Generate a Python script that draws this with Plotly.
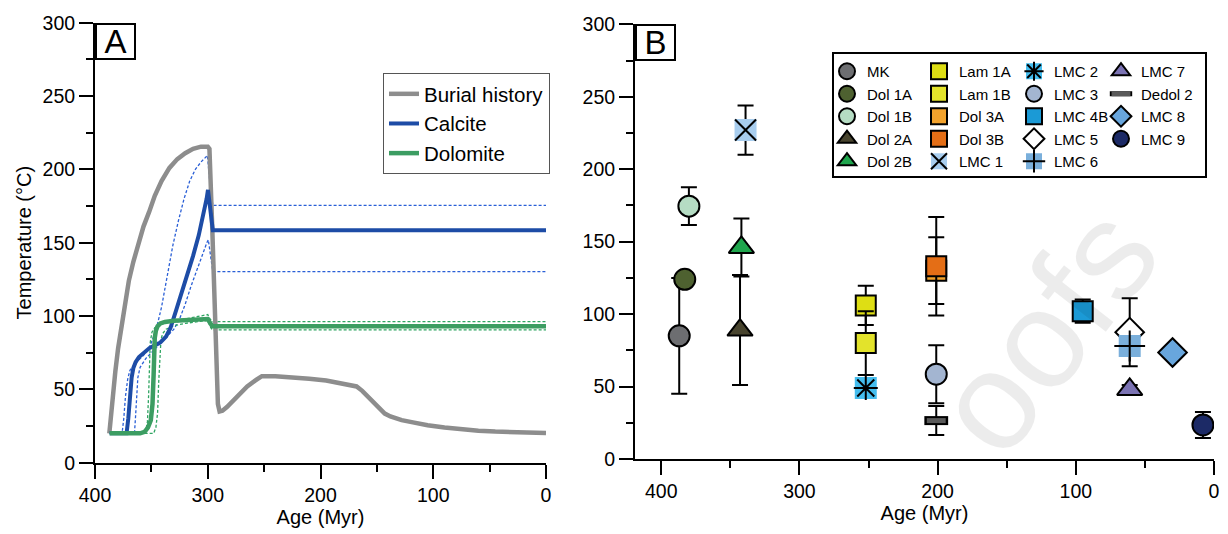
import plotly.graph_objects as go

FONT = "Liberation Sans, Arial, Helvetica, sans-serif"
W, H = 1228, 534

# ---------------- Panel A: burial history and clumped-isotope model paths ----------------
burial_age = [387.3, 386, 384, 382, 379.5, 376, 373, 370, 366, 362, 357, 352, 347, 341, 334,
              327, 320, 313, 306, 300, 298.5, 296, 293.5, 291, 289.5, 287, 283, 278, 272, 265,
              258, 252, 240, 225, 210, 195, 180, 168, 163, 158, 153, 148, 143, 138, 134, 128,
              118, 105, 90, 75, 60, 45, 30, 15, 0]
burial_temp = [20, 32, 47, 62, 78, 95, 110, 124, 137, 149, 161, 171, 182, 192, 201,
               207, 211, 214, 215.5, 215.5, 214, 160, 95, 40, 35, 35.5, 38, 42, 47, 52,
               56, 59, 59, 58.3, 57.2, 56, 54.2, 52, 49, 45, 40.5, 36.5, 33.5, 31.5, 30.5, 29,
               27.5, 25.5, 24, 22.7, 21.8, 21.2, 20.7, 20.4, 20.2]

calcite_age = [387, 372, 370.5, 369, 367.5, 366, 364, 361, 357, 352, 347, 342, 337, 333, 328,
               323, 318, 313, 308, 304, 301, 299.8, 297.5, 295.5, 0]
calcite_temp = [20, 20, 30, 45, 58, 64.5, 68.5, 72, 75, 78, 80, 82, 86, 92, 104,
                116, 128, 141, 155, 168, 180, 186, 171, 158.5, 158.5]

calcite_hi_age = [387, 376, 374.5, 373, 371, 369, 365, 361, 356, 351, 346, 341, 336, 331, 326,
                  321, 316, 311, 306, 302, 300.3, 298, 295.5, 0]
calcite_hi_temp = [20, 20, 30, 45, 57, 63, 67, 70, 74, 80, 90, 106, 128, 148, 165,
                   180, 192, 200, 205, 208.5, 209.5, 190, 175.5, 175.5]

calcite_lo_age = [387, 365, 364, 363, 362, 360, 355, 350, 345, 340, 335, 330, 325, 320, 315,
                  310, 305, 300.8, 299.5, 297.5, 295.5, 0]
calcite_lo_temp = [20, 20, 32, 48, 58, 65, 71, 75, 79, 83, 87, 91, 98, 108, 120,
                   131, 141, 150, 152, 140, 130.3, 130.3]

dolomite_age = [387, 360, 356, 353, 350.5, 349, 348, 347.5, 347, 346, 344.5, 342, 338, 330,
                320, 310, 302, 300, 298.5, 296, 0]
dolomite_temp = [20, 20, 21, 24, 29, 40, 60, 75, 85, 90, 93, 95, 96, 96.8,
                 97.3, 97.6, 97.9, 98, 96, 93, 93]

dolomite_hi_age = [387, 357, 355, 353.5, 352.5, 351.8, 351, 349.5, 347, 343, 335, 320, 305,
                   301, 300, 298, 296, 0]
dolomite_hi_temp = [20, 20, 22, 28, 45, 65, 82, 89, 92, 94, 96, 98, 100,
                    101, 101, 98, 96.2, 96.2]

dolomite_lo_age = [387, 348, 346, 344.5, 343.5, 342.5, 341.5, 340, 337, 330, 320, 305, 300,
                   298, 296, 0]
dolomite_lo_temp = [20, 20, 24, 34, 55, 75, 84, 88, 91, 93.5, 95, 96.5, 97,
                    93, 90.5, 90.5]

# ---------------- Panel B: sample temperatures (value, 1 s.e.) ----------------
sample_names = ["MK", "Dol 1A", "Dol 1B", "Dol 2A", "Dol 2B",
                "Lam 1A", "Lam 1B", "Dol 3A", "Dol 3B", "LMC 1",
                "LMC 2", "LMC 3", "LMC 4B", "LMC 5", "LMC 6",
                "LMC 7", "Dedol 2", "LMC 8", "LMC 9"]
sample_age = [387, 383, 380, 343, 342,
              252, 252, 201, 201, 339,
              252, 201, 95, 61, 61,
              61, 201, 30, 8]
sample_temp = [85, 124, 174.5, 89, 146,
               106, 80, 130, 133, 227,
               49, 58.5, 102, 87.5, 78,
               48, 26.5, 73.5, 23.5]
sample_err = [40, 4, 13, 38, 20,
              13.5, 22, 23, 34, 17,
              0, 20, 8, 23.5, 0,
              3, 10, 3, 9]

fig = go.Figure()

# model envelopes (thin dashed)
for ages, temps, col in [(calcite_hi_age, calcite_hi_temp, "#2a5fd6"),
                         (calcite_lo_age, calcite_lo_temp, "#2a5fd6"),
                         (dolomite_hi_age, dolomite_hi_temp, "#2fa562"),
                         (dolomite_lo_age, dolomite_lo_temp, "#2fa562")]:
    fig.add_trace(go.Scatter(x=ages, y=temps, mode="lines", showlegend=False,
                             line=dict(color=col, width=1.3, dash="3px,2px"),
                             xaxis="x", yaxis="y", hoverinfo="skip"))

fig.add_trace(go.Scatter(x=burial_age, y=burial_temp, mode="lines", name="Burial history",
                         line=dict(color="#8d8d8d", width=4.5), legend="legend",
                         xaxis="x", yaxis="y"))
fig.add_trace(go.Scatter(x=calcite_age, y=calcite_temp, mode="lines", name="Calcite",
                         line=dict(color="#1d4ca6", width=4), legend="legend",
                         xaxis="x", yaxis="y"))
fig.add_trace(go.Scatter(x=dolomite_age, y=dolomite_temp, mode="lines", name="Dolomite",
                         line=dict(color="#3c9d62", width=4.5), legend="legend",
                         xaxis="x", yaxis="y"))

# marker styles for each sample (base layer)
base_style = {
    "MK":      dict(symbol="circle", size=21, color="#6d6e71"),
    "Dol 1A":  dict(symbol="circle", size=21, color="#4e6130"),
    "Dol 1B":  dict(symbol="circle", size=21, color="#b5dcc3"),
    "Dol 2A":  dict(symbol="triangle-up", size=22, color="#48442e"),
    "Dol 2B":  dict(symbol="triangle-up", size=22, color="#1fa64d"),
    "Lam 1A":  dict(symbol="square", size=20, color="#dede14"),
    "Lam 1B":  dict(symbol="square", size=20, color="#e3e32b"),
    "Dol 3A":  dict(symbol="square", size=20, color="#f2a22c"),
    "Dol 3B":  dict(symbol="square", size=20, color="#e46e16"),
    "LMC 1":   dict(symbol="square", size=22, color="#a8cdee", lw=0),
    "LMC 2":   dict(symbol="square", size=22, color="#45bdee", lw=0),
    "LMC 3":   dict(symbol="circle", size=21, color="#a3b5d1"),
    "LMC 4B":  dict(symbol="square", size=20, color="#1b9ad6"),
    "LMC 5":   dict(symbol="diamond", size=22, color="#ffffff"),
    "LMC 6":   dict(symbol="square", size=22, color="#7aafdb", lw=0),
    "LMC 7":   dict(symbol="triangle-up", size=22, color="#7b73b3"),
    "Dedol 2": dict(symbol="line-ew", size=17, color="#000000", lw=9),
    "LMC 8":   dict(symbol="diamond", size=22, color="#68a6dd"),
    "LMC 9":   dict(symbol="circle", size=21, color="#1c2a66"),
}
# symbols drawn on top of the base marker
overlay_style = {
    "LMC 1":   dict(symbol="x-thin-open", size=21, color="#000000", lw=2),
    "LMC 2":   dict(symbol="asterisk-open", size=20, color="#000000", lw=2),
    "LMC 6":   dict(symbol="cross-thin-open", size=22, color="#000000", lw=2),
    "Dedol 2": dict(symbol="line-ew", size=13.5, color="#5a5a5a", lw=5),
}

columns = [sample_names[0:5], sample_names[5:10], sample_names[10:15], sample_names[15:19]]
col_left = [827, 919, 1014, 1101]
legend_top = 55
LEG_FONT = 15

layout_legends = {}

def legend_box(x_px):
    return dict(x=x_px / W, xanchor="left", y=(H - legend_top) / H, yanchor="top",
                bgcolor="rgba(0,0,0,0)", borderwidth=0, orientation="v",
                font=dict(family=FONT, size=LEG_FONT, color="black"),
                itemsizing="trace", tracegroupgap=0)

idx = {n: i for i, n in enumerate(sample_names)}

# base column legends: legend2..legend5
for c, names in enumerate(columns):
    lid = f"legend{c + 2}"
    layout_legends[lid] = legend_box(col_left[c])
    for n in names:
        i = idx[n]
        st = base_style[n]
        lw = st.get("lw", 2)
        if st["symbol"].startswith("line"):
            marker = dict(symbol=st["symbol"], size=st["size"], color=st["color"],
                          line=dict(color=st["color"], width=lw))
        else:
            marker = dict(symbol=st["symbol"], size=st["size"], color=st["color"],
                          line=dict(color="black", width=lw))
        err = sample_err[i]
        fig.add_trace(go.Scatter(
            x=[sample_age[i]], y=[sample_temp[i]], mode="markers", name=n,
            marker=marker, legend=lid, xaxis="x2", yaxis="y2",
            error_y=dict(type="data", array=[err], visible=err > 0,
                         color="black", thickness=2, width=8)))

# overlay legends: legend6..legend8 (same positions as columns 2-4)
for c in (1, 2, 3):
    lid = f"legend{c + 5}"
    layout_legends[lid] = legend_box(col_left[c])
    for n in columns[c]:
        if n in overlay_style:
            i = idx[n]
            st = overlay_style[n]
            fig.add_trace(go.Scatter(
                x=[sample_age[i]], y=[sample_temp[i]], mode="markers", name=" ",
                marker=dict(symbol=st["symbol"], size=st["size"], color=st["color"],
                            line=dict(color=st["color"], width=st["lw"])),
                legend=lid, xaxis="x2", yaxis="y2", hoverinfo="skip"))
        else:
            fig.add_trace(go.Scatter(
                x=[None], y=[None], mode="markers", name=" ",
                marker=dict(symbol="circle", size=10, color="rgba(0,0,0,0)"),
                legend=lid, xaxis="x2", yaxis="y2", hoverinfo="skip"))

TICK_FONT = dict(family=FONT, size=19.5, color="black")
TITLE_FONT = dict(family=FONT, size=20, color="black")
axis_common = dict(showline=True, linecolor="black", linewidth=2, mirror=False,
                   ticks="outside", ticklen=14, tickwidth=2, tickcolor="black",
                   showgrid=False, zeroline=False, automargin=False,
                   tickfont=TICK_FONT)

def minor(d):
    return dict(dtick=d, tick0=0, ticklen=7, tickwidth=2, tickcolor="black",
                ticks="outside", showgrid=False)

fig.update_layout(
    template="none",
    width=W, height=H,
    margin=dict(l=0, r=0, t=0, b=0, autoexpand=False),
    paper_bgcolor="white", plot_bgcolor="rgba(0,0,0,0)",
    font=dict(family=FONT, color="black"),
    xaxis=dict(domain=[95 / W, 546 / W], range=[400, 0], anchor="y",
               tickmode="linear", tick0=0, dtick=100, minor=minor(50),
               title=dict(text="Age (Myr)", font=TITLE_FONT, standoff=4),
               **axis_common),
    yaxis=dict(domain=[(H - 462.7) / H, (H - 22.7) / H], range=[0, 300], anchor="x",
               tickmode="linear", tick0=0, dtick=50, minor=minor(25),
               title=dict(text="Temperature (°C)", font=TITLE_FONT, standoff=6),
               **axis_common),
    xaxis2=dict(domain=[635 / W, 1214 / W], range=[419, 0], anchor="y2",
                tickmode="linear", tick0=0, dtick=100, minor=minor(50),
                title=dict(text="Age (Myr)", font=TITLE_FONT, standoff=4),
                **axis_common),
    yaxis2=dict(domain=[(H - 459) / H, (H - 24.3) / H], range=[0, 300], anchor="x2",
                tickmode="linear", tick0=0, dtick=50, minor=minor(25),
                **axis_common),
    legend=dict(x=383 / W, xanchor="left", y=(H - 73) / H, yanchor="top",
                bgcolor="white", bordercolor="#555555", borderwidth=1,
                font=dict(family=FONT, size=20.5, color="black"), tracegroupgap=0),
    **layout_legends,
)

# legend frame for panel B and the journal watermark (translucent so marks show through)
fig.add_shape(type="rect", xref="paper", yref="paper",
              x0=833 / W, x1=1206 / W, y0=(H - 177) / H, y1=(H - 53) / H,
              line=dict(color="black", width=2), fillcolor="white", layer="above")
fig.add_annotation(text="oofs", xref="paper", yref="paper",
                   x=1045 / W, y=(H - 330) / H, xanchor="center", yanchor="middle",
                   showarrow=False, textangle=-52,
                   font=dict(family=FONT, size=140, color="rgba(0,0,0,0.075)"))

# panel letters
for letter, x_px, y_px in [("A", 95, 22.7), ("B", 635, 24.3)]:
    fig.add_annotation(text=letter, xref="paper", yref="paper",
                       x=x_px / W, xanchor="left", y=(H - y_px) / H, yanchor="top",
                       showarrow=False, font=dict(family=FONT, size=33, color="black"),
                       bordercolor="black", borderwidth=2, borderpad=0, bgcolor="white",
                       width=37, height=33)

fig.write_html("out.html")
